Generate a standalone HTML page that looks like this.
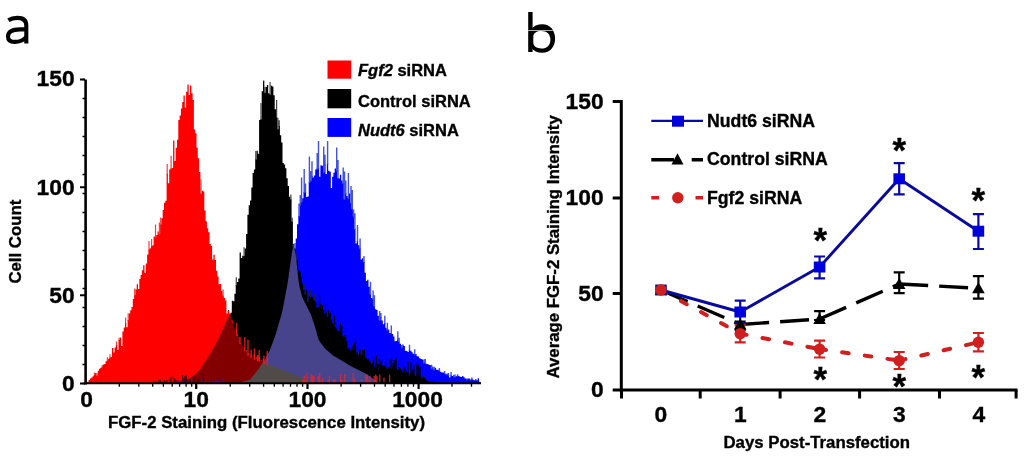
<!DOCTYPE html>
<html><head><meta charset="utf-8">
<style>
html,body{margin:0;padding:0;background:#fff;width:1024px;height:456px;overflow:hidden}
svg{display:block;font-family:"Liberation Sans",sans-serif;will-change:transform}
.b{font-weight:bold}
text{stroke:#000;stroke-width:0.35px}
</style></head>
<body>
<svg width="1024" height="456" viewBox="0 0 1024 456">
<rect width="1024" height="456" fill="#fff"/>
<!-- PANEL A -->
<g id="hist"><defs>
<clipPath id="cKi"><path d="M120.0 383.4 L121.0 383.4 L122.0 383.4 L123.0 383.4 L124.0 383.4 L125.0 383.4 L126.0 383.4 L127.0 383.4 L128.0 383.3 L129.0 383.3 L130.0 383.3 L131.0 383.3 L132.0 383.3 L133.0 383.3 L134.0 383.3 L135.0 383.3 L136.0 383.3 L137.0 383.3 L138.0 383.3 L139.0 383.3 L140.0 383.3 L141.0 383.3 L142.0 383.3 L143.0 383.2 L144.0 383.2 L145.0 383.2 L146.0 383.2 L147.0 383.2 L148.0 383.2 L149.0 383.2 L150.0 383.2 L151.0 383.2 L152.0 383.1 L153.0 383.1 L154.0 383.1 L155.0 383.0 L156.0 383.0 L157.0 383.0 L158.0 382.9 L159.0 382.9 L160.0 382.9 L161.0 382.8 L162.0 382.8 L163.0 382.8 L164.0 382.8 L165.0 382.7 L166.0 382.7 L167.0 382.7 L168.0 382.6 L169.0 382.6 L170.0 382.6 L171.0 382.5 L172.0 382.5 L173.0 382.5 L174.0 382.4 L175.0 382.4 L176.0 382.2 L177.0 382.0 L178.0 381.8 L179.0 381.6 L180.0 381.4 L181.0 381.3 L182.0 381.1 L183.0 380.9 L184.0 380.7 L185.0 380.5 L186.0 380.0 L187.0 379.5 L188.0 379.0 L189.0 378.5 L190.0 378.0 L191.0 377.5 L192.0 376.8 L193.0 376.0 L194.0 375.2 L195.0 374.5 L196.0 373.5 L197.0 372.5 L198.0 371.6 L199.0 370.6 L200.0 369.4 L201.0 367.9 L202.0 366.3 L203.0 364.8 L204.0 363.3 L205.0 361.8 L206.0 360.3 L207.0 358.7 L208.0 357.2 L209.0 355.7 L210.0 353.9 L211.0 352.2 L212.0 350.4 L213.0 348.7 L214.0 347.0 L215.0 345.2 L216.0 343.5 L217.0 341.7 L218.0 340.0 L219.0 337.8 L220.0 335.5 L221.0 333.3 L222.0 331.1 L223.0 328.8 L224.0 326.6 L225.0 324.3 L226.0 322.1 L227.0 319.9 L228.0 317.8 L229.0 315.8 L230.0 312.8 L231.0 308.4 L232.0 303.9 L233.0 299.5 L234.0 295.0 L235.0 290.6 L236.0 286.1 L237.0 281.7 L238.0 277.2 L239.0 272.3 L240.0 266.9 L241.0 261.5 L242.0 256.1 L243.0 252.2 L244.0 248.7 L245.0 242.6 L246.0 235.5 L247.0 225.5 L248.0 215.4 L249.0 206.1 L250.0 197.0 L251.0 188.9 L252.0 182.8 L253.0 176.8 L254.0 170.9 L255.0 165.0 L256.0 159.9 L257.0 155.8 L258.0 151.7 L259.0 143.2 L260.0 129.2 L261.0 114.1 L262.0 97.3 L263.0 89.5 L264.0 87.8 L265.0 86.0 L266.0 85.5 L267.0 85.0 L268.0 84.5 L269.0 84.8 L270.0 85.2 L271.0 85.5 L272.0 85.8 L273.0 88.9 L274.0 96.3 L275.0 104.5 L276.0 113.4 L277.0 118.1 L278.0 122.9 L279.0 127.6 L280.0 132.7 L281.0 138.2 L282.0 143.6 L283.0 149.1 L284.0 154.8 L285.0 160.9 L286.0 167.0 L287.0 174.0 L288.0 182.1 L289.0 190.1 L290.0 200.1 L291.0 210.0 L292.0 220.9 L293.0 234.7 L294.0 247.0 L295.0 251.0 L296.0 257.7 L297.0 267.0 L298.0 276.3 L299.0 284.6 L300.0 288.6 L301.0 292.6 L302.0 296.6 L303.0 298.8 L304.0 300.8 L305.0 302.8 L306.0 304.8 L307.0 306.8 L308.0 308.8 L309.0 310.7 L310.0 312.7 L311.0 314.8 L312.0 317.8 L313.0 320.8 L314.0 323.8 L315.0 326.8 L316.0 330.3 L317.0 334.0 L318.0 337.8 L319.0 340.5 L320.0 341.9 L321.0 343.2 L322.0 344.5 L323.0 345.8 L324.0 347.2 L325.0 348.5 L326.0 349.4 L327.0 350.3 L328.0 351.2 L329.0 352.1 L330.0 353.0 L331.0 353.8 L332.0 354.7 L333.0 355.4 L334.0 356.0 L335.0 356.6 L336.0 357.2 L337.0 357.8 L338.0 358.4 L339.0 359.0 L340.0 359.6 L341.0 360.2 L342.0 360.8 L343.0 361.4 L344.0 362.0 L345.0 362.6 L346.0 363.2 L347.0 363.8 L348.0 364.4 L349.0 365.0 L350.0 365.6 L351.0 366.2 L352.0 366.7 L353.0 367.2 L354.0 367.7 L355.0 368.2 L356.0 368.7 L357.0 369.2 L358.0 369.7 L359.0 370.2 L360.0 370.7 L361.0 371.2 L362.0 371.7 L363.0 372.2 L364.0 372.7 L365.0 373.2 L366.0 373.7 L367.0 374.4 L368.0 375.1 L369.0 375.9 L370.0 376.6 L371.0 377.3 L372.0 378.0 L373.0 378.7 L374.0 379.4 L375.0 380.1 L376.0 380.8 L377.0 381.5 L378.0 381.9 L379.0 382.3 L380.0 382.6 L381.0 383.0 L382.0 383.4 L383.0 383.4 L384.0 383.4 L385.0 383.4 L386.0 383.4 L387.0 383.4 L388.0 383.4 L389.0 383.4 L390.0 383.4 L391.0 383.4 L392.0 383.4 L393.0 383.4 L394.0 383.4 L395.0 383.4 L396.0 383.4 L397.0 383.4 L398.0 383.4 L399.0 383.4 L400.0 383.4 L401.0 383.4 L402.0 383.4 L403.0 383.4 L404.0 383.4 L405.0 383.4 L406.0 383.4 L407.0 383.4 L408.0 383.4 L409.0 383.4 L410.0 383.4 L411.0 383.4 L412.0 383.4 L413.0 383.4 L414.0 383.4 L415.0 383.4 L416.0 383.4 L417.0 383.4 L418.0 383.4 L419.0 383.4 L420.0 383.4 L421.0 383.4 L422.0 383.4 L423.0 383.4 L424.0 383.4 L425.0 383.4 L426.0 383.4 L427.0 383.4 L428.0 383.4 L429.0 383.4 L430.0 383.4 L431.0 383.4 L432.0 383.4 L433.0 383.4 L434.0 383.4 L435.0 383.4 L436.0 383.4 L437.0 383.4 L438.0 383.4 L439.0 383.4 L440.0 383.4 L440.0 383.4Z"/></clipPath>
<clipPath id="cBi"><path d="M180.0 383.4 L181.0 383.4 L182.0 383.4 L183.0 383.4 L184.0 383.3 L185.0 383.3 L186.0 383.3 L187.0 383.3 L188.0 383.3 L189.0 383.3 L190.0 383.2 L191.0 383.2 L192.0 383.2 L193.0 383.2 L194.0 383.2 L195.0 383.2 L196.0 383.2 L197.0 383.1 L198.0 383.1 L199.0 383.1 L200.0 383.1 L201.0 383.1 L202.0 383.1 L203.0 383.1 L204.0 383.0 L205.0 383.0 L206.0 383.0 L207.0 383.0 L208.0 383.0 L209.0 383.0 L210.0 382.9 L211.0 382.9 L212.0 382.9 L213.0 382.9 L214.0 382.9 L215.0 382.9 L216.0 382.9 L217.0 382.8 L218.0 382.8 L219.0 382.8 L220.0 382.8 L221.0 382.8 L222.0 382.8 L223.0 382.8 L224.0 382.7 L225.0 382.7 L226.0 382.7 L227.0 382.7 L228.0 382.7 L229.0 382.7 L230.0 382.6 L231.0 382.6 L232.0 382.6 L233.0 382.6 L234.0 382.6 L235.0 382.6 L236.0 382.6 L237.0 382.5 L238.0 382.5 L239.0 382.5 L240.0 382.5 L241.0 382.2 L242.0 382.0 L243.0 381.8 L244.0 381.5 L245.0 381.2 L246.0 381.0 L247.0 380.8 L248.0 380.5 L249.0 380.2 L250.0 380.0 L251.0 378.8 L252.0 377.5 L253.0 376.2 L254.0 375.0 L255.0 373.8 L256.0 372.5 L257.0 371.2 L258.0 370.0 L259.0 368.5 L260.0 367.1 L261.0 365.6 L262.0 364.2 L263.0 362.7 L264.0 361.3 L265.0 359.8 L266.0 357.8 L267.0 355.8 L268.0 353.7 L269.0 351.7 L270.0 349.7 L271.0 347.1 L272.0 344.5 L273.0 341.8 L274.0 339.1 L275.0 336.4 L276.0 333.2 L277.0 329.8 L278.0 326.3 L279.0 322.8 L280.0 319.4 L281.0 315.9 L282.0 312.4 L283.0 308.0 L284.0 302.6 L285.0 297.2 L286.0 291.8 L287.0 286.4 L288.0 280.5 L289.0 273.3 L290.0 266.2 L291.0 259.1 L292.0 252.0 L293.0 248.2 L294.0 244.4 L295.0 240.7 L296.0 236.9 L297.0 231.1 L298.0 223.2 L299.0 215.4 L300.0 208.1 L301.0 200.9 L302.0 196.7 L303.0 194.4 L304.0 192.2 L305.0 190.0 L306.0 188.2 L307.0 186.4 L308.0 184.6 L309.0 182.8 L310.0 181.0 L311.0 179.5 L312.0 178.0 L313.0 176.5 L314.0 175.0 L315.0 173.5 L316.0 172.0 L317.0 171.1 L318.0 170.2 L319.0 169.2 L320.0 168.3 L321.0 167.4 L322.0 166.5 L323.0 166.4 L324.0 166.3 L325.0 166.2 L326.0 166.2 L327.0 166.1 L328.0 166.0 L329.0 166.3 L330.0 166.7 L331.0 167.0 L332.0 167.3 L333.0 167.7 L334.0 168.0 L335.0 169.3 L336.0 170.7 L337.0 172.0 L338.0 173.3 L339.0 174.7 L340.0 176.0 L341.0 178.0 L342.0 179.9 L343.0 181.9 L344.0 183.8 L345.0 185.8 L346.0 188.0 L347.0 190.1 L348.0 192.2 L349.0 194.3 L350.0 197.1 L351.0 202.7 L352.0 208.2 L353.0 213.7 L354.0 220.0 L355.0 226.7 L356.0 232.6 L357.0 237.8 L358.0 243.0 L359.0 246.3 L360.0 249.5 L361.0 252.8 L362.0 256.1 L363.0 259.4 L364.0 263.3 L365.0 267.9 L366.0 272.5 L367.0 277.2 L368.0 281.8 L369.0 286.4 L370.0 289.5 L371.0 292.6 L372.0 295.7 L373.0 298.7 L374.0 301.8 L375.0 304.9 L376.0 308.0 L377.0 310.0 L378.0 311.9 L379.0 313.9 L380.0 315.9 L381.0 317.9 L382.0 319.8 L383.0 321.8 L384.0 323.4 L385.0 324.7 L386.0 326.1 L387.0 327.4 L388.0 328.7 L389.0 330.1 L390.0 331.4 L391.0 332.7 L392.0 334.1 L393.0 335.4 L394.0 336.7 L395.0 337.8 L396.0 338.8 L397.0 339.8 L398.0 340.8 L399.0 341.8 L400.0 342.9 L401.0 343.9 L402.0 344.9 L403.0 345.9 L404.0 346.9 L405.0 347.9 L406.0 348.6 L407.0 349.2 L408.0 349.9 L409.0 350.5 L410.0 351.2 L411.0 351.8 L412.0 352.5 L413.0 353.1 L414.0 353.8 L415.0 354.4 L416.0 355.1 L417.0 355.9 L418.0 356.8 L419.0 357.6 L420.0 358.4 L421.0 359.2 L422.0 360.1 L423.0 360.9 L424.0 361.8 L425.0 362.6 L426.0 363.4 L427.0 364.2 L428.0 364.7 L429.0 365.2 L430.0 365.7 L431.0 366.2 L432.0 366.7 L433.0 367.2 L434.0 367.8 L435.0 368.3 L436.0 368.8 L437.0 369.3 L438.0 369.8 L439.0 370.3 L440.0 370.8 L441.0 371.3 L442.0 371.8 L443.0 372.3 L444.0 372.8 L445.0 373.3 L446.0 373.8 L447.0 374.3 L448.0 374.8 L449.0 375.1 L450.0 375.2 L451.0 375.3 L452.0 375.4 L453.0 375.6 L454.0 375.7 L455.0 375.8 L456.0 375.9 L457.0 376.1 L458.0 376.2 L459.0 376.3 L460.0 376.4 L461.0 376.6 L462.0 376.7 L463.0 376.8 L464.0 377.0 L465.0 377.3 L466.0 377.5 L467.0 377.7 L468.0 377.9 L469.0 378.2 L470.0 378.4 L471.0 378.6 L472.0 378.8 L473.0 379.1 L474.0 379.3 L475.0 379.5 L476.0 379.7 L477.0 380.0 L478.0 380.2 L479.0 380.4 L480.0 381.9 L481.0 383.4 L481.0 383.4Z"/></clipPath>
</defs>
<path d="M180.0 383.4L180.0 383.4L181.3 383.4L181.3 383.4L182.6 383.4L182.6 383.4L183.9 383.4L183.9 383.4L185.2 383.4L185.2 383.4L186.5 383.4L186.5 383.4L187.8 383.4L187.8 383.4L189.1 383.4L189.1 383.4L190.4 383.4L190.4 383.4L191.7 383.4L191.7 383.4L193.0 383.4L193.0 383.4L194.3 383.4L194.3 383.4L195.6 383.4L195.6 383.4L196.9 383.4L196.9 383.4L198.2 383.4L198.2 383.4L199.5 383.4L199.5 383.4L200.8 383.4L200.8 383.1L202.1 383.1L202.1 383.4L203.4 383.4L203.4 383.4L204.7 383.4L204.7 383.0L206.0 383.0L206.0 383.0L207.3 383.0L207.3 383.4L208.6 383.4L208.6 383.0L209.9 383.0L209.9 383.0L211.2 383.0L211.2 382.9L212.5 382.9L212.5 383.0L213.8 383.0L213.8 382.9L215.1 382.9L215.1 383.4L216.4 383.4L216.4 383.2L217.7 383.2L217.7 382.8L219.0 382.8L219.0 382.7L220.3 382.7L220.3 382.7L221.6 382.7L221.6 382.9L222.9 382.9L222.9 382.7L224.2 382.7L224.2 383.4L225.5 383.4L225.5 383.1L226.8 383.1L226.8 382.8L228.1 382.8L228.1 382.7L229.4 382.7L229.4 382.8L230.7 382.8L230.7 382.6L232.0 382.6L232.0 382.9L233.3 382.9L233.3 382.9L234.6 382.9L234.6 383.0L235.9 383.0L235.9 382.6L237.2 382.6L237.2 382.6L238.5 382.6L238.5 382.8L239.8 382.8L239.8 382.3L241.1 382.3L241.1 382.4L242.4 382.4L242.4 382.1L243.7 382.1L243.7 380.6L245.0 380.6L245.0 381.3L246.3 381.3L246.3 380.8L247.6 380.8L247.6 381.1L248.9 381.1L248.9 380.0L250.2 380.0L250.2 380.4L251.5 380.4L251.5 378.1L252.8 378.1L252.8 375.2L254.1 375.2L254.1 373.7L255.4 373.7L255.4 374.1L256.7 374.1L256.7 371.6L258.0 371.6L258.0 370.6L259.3 370.6L259.3 367.1L260.6 367.1L260.6 366.0L261.9 366.0L261.9 362.9L263.2 362.9L263.2 363.0L264.5 363.0L264.5 358.5L265.8 358.5L265.8 356.1L267.1 356.1L267.1 354.2L268.4 354.2L268.4 351.6L269.7 351.6L269.7 350.1L271.0 350.1L271.0 345.8L272.3 345.8L272.3 342.8L273.6 342.8L273.6 339.3L274.9 339.3L274.9 333.8L276.2 333.8L276.2 329.2L277.5 329.2L277.5 330.8L278.8 330.8L278.8 319.8L280.1 319.8L280.1 317.5L281.4 317.5L281.4 310.6L282.7 310.6L282.7 308.0L284.0 308.0L284.0 299.9L285.3 299.9L285.3 289.0L286.6 289.0L286.6 284.1L287.9 284.1L287.9 281.1L289.2 281.1L289.2 268.0L290.5 268.0L290.5 256.1L291.8 256.1L291.8 250.6L293.1 250.6L293.1 243.7L294.4 243.7L294.4 248.7L295.7 248.7L295.7 238.6L297.0 238.6L297.0 224.2L298.3 224.2L298.3 216.0L299.6 216.0L299.6 205.1L300.9 205.1L300.9 201.7L302.2 201.7L302.2 198.3L303.5 198.3L303.5 192.3L304.8 192.3L304.8 192.0L306.1 192.0L306.1 196.9L307.4 196.9L307.4 196.6L308.7 196.6L308.7 182.3L310.0 182.3L310.0 180.7L311.3 180.7L311.3 175.9L312.6 175.9L312.6 177.4L313.9 177.4L313.9 175.6L315.2 175.6L315.2 169.5L316.5 169.5L316.5 168.6L317.8 168.6L317.8 168.2L319.1 168.2L319.1 176.8L320.4 176.8L320.4 165.2L321.7 165.2L321.7 165.7L323.0 165.7L323.0 172.2L324.3 172.2L324.3 164.5L325.6 164.5L325.6 174.0L326.9 174.0L326.9 163.6L328.2 163.6L328.2 170.7L329.5 170.7L329.5 171.7L330.8 171.7L330.8 188.0L332.1 188.0L332.1 176.7L333.4 176.7L333.4 172.8L334.7 172.8L334.7 168.4L336.0 168.4L336.0 170.4L337.3 170.4L337.3 177.9L338.6 177.9L338.6 178.5L339.9 178.5L339.9 174.8L341.2 174.8L341.2 180.4L342.5 180.4L342.5 183.2L343.8 183.2L343.8 199.1L345.1 199.1L345.1 193.0L346.4 193.0L346.4 196.0L347.7 196.0L347.7 198.2L349.0 198.2L349.0 193.5L350.3 193.5L350.3 203.0L351.6 203.0L351.6 208.7L352.9 208.7L352.9 216.5L354.2 216.5L354.2 229.0L355.5 229.0L355.5 243.4L356.8 243.4L356.8 241.0L358.1 241.0L358.1 245.2L359.4 245.2L359.4 248.6L360.7 248.6L360.7 259.6L362.0 259.6L362.0 258.3L363.3 258.3L363.3 262.1L364.6 262.1L364.6 272.7L365.9 272.7L365.9 281.0L367.2 281.0L367.2 279.7L368.5 279.7L368.5 286.8L369.8 286.8L369.8 294.2L371.1 294.2L371.1 298.0L372.4 298.0L372.4 298.8L373.7 298.8L373.7 306.2L375.0 306.2L375.0 309.2L376.3 309.2L376.3 310.0L377.6 310.0L377.6 315.8L378.9 315.8L378.9 320.1L380.2 320.1L380.2 317.1L381.5 317.1L381.5 320.4L382.8 320.4L382.8 324.3L384.1 324.3L384.1 323.1L385.4 323.1L385.4 327.8L386.7 327.8L386.7 329.7L388.0 329.7L388.0 329.5L389.3 329.5L389.3 333.0L390.6 333.0L390.6 333.2L391.9 333.2L391.9 333.9L393.2 333.9L393.2 336.4L394.5 336.4L394.5 341.3L395.8 341.3L395.8 341.0L397.1 341.0L397.1 339.4L398.4 339.4L398.4 341.6L399.7 341.6L399.7 343.7L401.0 343.7L401.0 347.6L402.3 347.6L402.3 344.6L403.6 344.6L403.6 346.0L404.9 346.0L404.9 350.8L406.2 350.8L406.2 350.9L407.5 350.9L407.5 352.0L408.8 352.0L408.8 349.7L410.1 349.7L410.1 350.8L411.4 350.8L411.4 352.2L412.7 352.2L412.7 353.7L414.0 353.7L414.0 354.6L415.3 354.6L415.3 354.1L416.6 354.1L416.6 356.2L417.9 356.2L417.9 356.5L419.2 356.5L419.2 358.2L420.5 358.2L420.5 358.9L421.8 358.9L421.8 359.6L423.1 359.6L423.1 362.8L424.4 362.8L424.4 359.1L425.7 359.1L425.7 363.7L427.0 363.7L427.0 363.9L428.3 363.9L428.3 364.8L429.6 364.8L429.6 365.0L430.9 365.0L430.9 368.5L432.2 368.5L432.2 366.8L433.5 366.8L433.5 369.6L434.8 369.6L434.8 367.8L436.1 367.8L436.1 369.8L437.4 369.8L437.4 369.8L438.7 369.8L438.7 370.6L440.0 370.6L440.0 371.8L441.3 371.8L441.3 372.4L442.6 372.4L442.6 372.5L443.9 372.5L443.9 373.0L445.2 373.0L445.2 374.2L446.5 374.2L446.5 374.3L447.8 374.3L447.8 375.0L449.1 375.0L449.1 377.5L450.4 377.5L450.4 375.2L451.7 375.2L451.7 376.1L453.0 376.1L453.0 376.5L454.3 376.5L454.3 376.8L455.6 376.8L455.6 376.3L456.9 376.3L456.9 375.6L458.2 375.6L458.2 376.1L459.5 376.1L459.5 376.7L460.8 376.7L460.8 376.9L462.1 376.9L462.1 376.0L463.4 376.0L463.4 377.3L464.7 377.3L464.7 378.5L466.0 378.5L466.0 379.5L467.3 379.5L467.3 378.4L468.6 378.4L468.6 378.5L469.9 378.5L469.9 380.0L471.2 380.0L471.2 378.8L472.5 378.8L472.5 379.8L473.8 379.8L473.8 380.2L475.1 380.2L475.1 379.7L476.4 379.7L476.4 380.2L477.7 380.2L477.7 378.3L479.0 378.3L479.0 381.7L480.3 381.7L480.3 383.4L481.6 383.4L481.6 383.4Z" fill="#0000ff"/>
<path d="M244.4 381.6V379.1M247.0 381.8V379.9M249.6 381.0V379.1M257.4 372.6V370.3M266.5 357.1V352.3M271.7 346.8V339.6M274.3 340.3V334.4M275.6 334.8V331.0M279.5 320.8V311.5M280.8 318.5V307.1M282.1 311.6V307.3M283.4 309.0V301.6M289.9 269.0V261.2M295.1 249.7V242.9M299.0 217.0V203.5M300.3 206.1V194.9M301.6 202.7V177.5M304.2 193.3V169.1M305.5 193.0V183.5M309.4 183.3V156.6M310.7 181.7V171.0M312.0 176.9V161.3M317.2 169.6V153.0M318.5 169.2V141.0M323.7 173.2V146.6M325.0 165.5V154.7M327.6 164.6V141.0M336.7 171.4V147.5M338.0 178.9V159.9M343.2 184.2V167.6M344.5 200.1V171.4M345.8 194.0V180.5M348.4 199.2V173.0M351.0 204.0V186.0M352.3 209.7V190.0M353.6 217.5V209.5M354.9 230.0V213.3M357.5 242.0V224.9M360.1 249.6V238.4M364.0 263.1V256.1M370.5 295.2V281.8M373.1 299.8V290.5M374.4 307.2V295.3M379.6 321.1V311.0M380.9 318.1V313.1M384.8 324.1V315.7M387.4 330.7V322.8M391.3 334.2V325.5M397.8 340.4V331.3M399.1 342.6V337.7M401.7 348.6V345.0M409.5 350.7V344.8M414.7 355.6V349.2M423.8 363.8V359.6M431.6 369.5V364.7M434.2 370.6V366.8M439.4 371.6V367.9M444.6 374.0V370.9M447.2 375.3V373.5M448.5 376.0V373.1M451.1 376.2V372.1M453.7 377.5V374.8M455.0 377.8V374.5M457.6 376.6V374.2M466.7 380.5V378.5M470.6 381.0V379.3M471.9 379.8V377.4M475.8 380.7V379.0" stroke="#3040d8" stroke-width="1.4" opacity="0.9" fill="none"/>
<path d="M120.0 383.4L120.0 383.4L121.3 383.4L121.3 383.4L122.6 383.4L122.6 383.4L123.9 383.4L123.9 383.4L125.2 383.4L125.2 383.4L126.5 383.4L126.5 383.4L127.8 383.4L127.8 383.4L129.1 383.4L129.1 383.4L130.4 383.4L130.4 383.4L131.7 383.4L131.7 383.4L133.0 383.4L133.0 383.4L134.3 383.4L134.3 383.4L135.6 383.4L135.6 383.4L136.9 383.4L136.9 383.4L138.2 383.4L138.2 383.4L139.5 383.4L139.5 383.4L140.8 383.4L140.8 383.4L142.1 383.4L142.1 383.4L143.4 383.4L143.4 383.4L144.7 383.4L144.7 383.4L146.0 383.4L146.0 383.4L147.3 383.4L147.3 383.4L148.6 383.4L148.6 383.4L149.9 383.4L149.9 383.4L151.2 383.4L151.2 383.4L152.5 383.4L152.5 383.0L153.8 383.0L153.8 383.4L155.1 383.4L155.1 382.8L156.4 382.8L156.4 383.1L157.7 383.1L157.7 383.0L159.0 383.0L159.0 382.9L160.3 382.9L160.3 383.0L161.6 383.0L161.6 382.8L162.9 382.8L162.9 382.9L164.2 382.9L164.2 383.1L165.5 383.1L165.5 382.6L166.8 382.6L166.8 382.5L168.1 382.5L168.1 382.7L169.4 382.7L169.4 382.5L170.7 382.5L170.7 382.7L172.0 382.7L172.0 382.4L173.3 382.4L173.3 382.7L174.6 382.7L174.6 382.2L175.9 382.2L175.9 382.3L177.2 382.3L177.2 381.8L178.5 381.8L178.5 381.5L179.8 381.5L179.8 381.9L181.1 381.9L181.1 382.2L182.4 382.2L182.4 381.5L183.7 381.5L183.7 380.6L185.0 380.6L185.0 380.4L186.3 380.4L186.3 379.5L187.6 379.5L187.6 380.5L188.9 380.5L188.9 378.0L190.2 378.0L190.2 377.3L191.5 377.3L191.5 375.9L192.8 375.9L192.8 375.9L194.1 375.9L194.1 374.4L195.4 374.4L195.4 373.6L196.7 373.6L196.7 372.1L198.0 372.1L198.0 371.6L199.3 371.6L199.3 375.9L200.6 375.9L200.6 369.3L201.9 369.3L201.9 365.9L203.2 365.9L203.2 363.9L204.5 363.9L204.5 361.6L205.8 361.6L205.8 359.7L207.1 359.7L207.1 359.2L208.4 359.2L208.4 361.2L209.7 361.2L209.7 354.2L211.0 354.2L211.0 350.8L212.3 350.8L212.3 349.1L213.6 349.1L213.6 346.0L214.9 346.0L214.9 344.1L216.2 344.1L216.2 340.8L217.5 340.8L217.5 340.3L218.8 340.3L218.8 339.0L220.1 339.0L220.1 338.2L221.4 338.2L221.4 330.3L222.7 330.3L222.7 327.2L224.0 327.2L224.0 324.7L225.3 324.7L225.3 322.2L226.6 322.2L226.6 329.6L227.9 329.6L227.9 310.2L229.2 310.2L229.2 314.3L230.5 314.3L230.5 312.8L231.8 312.8L231.8 300.8L233.1 300.8L233.1 301.3L234.4 301.3L234.4 293.8L235.7 293.8L235.7 284.9L237.0 284.9L237.0 282.0L238.3 282.0L238.3 278.5L239.6 278.5L239.6 252.4L240.9 252.4L240.9 258.0L242.2 258.0L242.2 255.7L243.5 255.7L243.5 256.1L244.8 256.1L244.8 248.4L246.1 248.4L246.1 234.1L247.4 234.1L247.4 214.8L248.7 214.8L248.7 205.2L250.0 205.2L250.0 200.5L251.3 200.5L251.3 187.4L252.6 187.4L252.6 173.1L253.9 173.1L253.9 169.6L255.2 169.6L255.2 159.6L256.5 159.6L256.5 150.7L257.8 150.7L257.8 153.8L259.1 153.8L259.1 120.1L260.4 120.1L260.4 119.3L261.7 119.3L261.7 91.3L263.0 91.3L263.0 80.7L264.3 80.7L264.3 92.8L265.6 92.8L265.6 86.9L266.9 86.9L266.9 85.0L268.2 85.0L268.2 93.3L269.5 93.3L269.5 94.6L270.8 94.6L270.8 85.7L272.1 85.7L272.1 86.4L273.4 86.4L273.4 95.2L274.7 95.2L274.7 109.3L276.0 109.3L276.0 117.1L277.3 117.1L277.3 129.0L278.6 129.0L278.6 126.1L279.9 126.1L279.9 135.2L281.2 135.2L281.2 142.5L282.5 142.5L282.5 163.1L283.8 163.1L283.8 164.4L285.1 164.4L285.1 168.2L286.4 168.2L286.4 178.3L287.7 178.3L287.7 185.9L289.0 185.9L289.0 196.7L290.3 196.7L290.3 199.5L291.6 199.5L291.6 221.4L292.9 221.4L292.9 247.6L294.2 247.6L294.2 248.5L295.5 248.5L295.5 260.5L296.8 260.5L296.8 260.3L298.1 260.3L298.1 270.7L299.4 270.7L299.4 271.4L300.7 271.4L300.7 276.9L302.0 276.9L302.0 284.2L303.3 284.2L303.3 289.2L304.6 289.2L304.6 294.2L305.9 294.2L305.9 289.7L307.2 289.7L307.2 300.9L308.5 300.9L308.5 295.5L309.8 295.5L309.8 296.2L311.1 296.2L311.1 297.0L312.4 297.0L312.4 297.4L313.7 297.4L313.7 299.5L315.0 299.5L315.0 302.2L316.3 302.2L316.3 308.1L317.6 308.1L317.6 307.1L318.9 307.1L318.9 303.1L320.2 303.1L320.2 304.3L321.5 304.3L321.5 307.7L322.8 307.7L322.8 310.0L324.1 310.0L324.1 313.8L325.4 313.8L325.4 311.7L326.7 311.7L326.7 317.3L328.0 317.3L328.0 315.7L329.3 315.7L329.3 312.7L330.6 312.7L330.6 319.6L331.9 319.6L331.9 322.9L333.2 322.9L333.2 325.7L334.5 325.7L334.5 327.0L335.8 327.0L335.8 328.5L337.1 328.5L337.1 330.8L338.4 330.8L338.4 331.0L339.7 331.0L339.7 326.9L341.0 326.9L341.0 325.9L342.3 325.9L342.3 335.8L343.6 335.8L343.6 336.4L344.9 336.4L344.9 337.3L346.2 337.3L346.2 341.0L347.5 341.0L347.5 348.6L348.8 348.6L348.8 348.0L350.1 348.0L350.1 350.4L351.4 350.4L351.4 346.4L352.7 346.4L352.7 349.3L354.0 349.3L354.0 349.5L355.3 349.5L355.3 354.5L356.6 354.5L356.6 351.3L357.9 351.3L357.9 354.8L359.2 354.8L359.2 354.8L360.5 354.8L360.5 355.1L361.8 355.1L361.8 353.9L363.1 353.9L363.1 359.3L364.4 359.3L364.4 357.9L365.7 357.9L365.7 357.9L367.0 357.9L367.0 359.6L368.3 359.6L368.3 359.7L369.6 359.7L369.6 362.6L370.9 362.6L370.9 362.7L372.2 362.7L372.2 361.8L373.5 361.8L373.5 367.4L374.8 367.4L374.8 363.4L376.1 363.4L376.1 364.6L377.4 364.6L377.4 363.9L378.7 363.9L378.7 371.2L380.0 371.2L380.0 365.3L381.3 365.3L381.3 365.6L382.6 365.6L382.6 365.1L383.9 365.1L383.9 366.1L385.2 366.1L385.2 368.4L386.5 368.4L386.5 368.4L387.8 368.4L387.8 367.0L389.1 367.0L389.1 368.5L390.4 368.5L390.4 367.7L391.7 367.7L391.7 368.1L393.0 368.1L393.0 369.8L394.3 369.8L394.3 369.1L395.6 369.1L395.6 368.9L396.9 368.9L396.9 370.0L398.2 370.0L398.2 370.0L399.5 370.0L399.5 373.0L400.8 373.0L400.8 369.9L402.1 369.9L402.1 372.0L403.4 372.0L403.4 371.1L404.7 371.1L404.7 372.4L406.0 372.4L406.0 371.4L407.3 371.4L407.3 373.6L408.6 373.6L408.6 375.3L409.9 375.3L409.9 373.1L411.2 373.1L411.2 373.7L412.5 373.7L412.5 373.6L413.8 373.6L413.8 374.6L415.1 374.6L415.1 375.1L416.4 375.1L416.4 375.5L417.7 375.5L417.7 376.2L419.0 376.2L419.0 376.4L420.3 376.4L420.3 377.5L421.6 377.5L421.6 378.5L422.9 378.5L422.9 378.9L424.2 378.9L424.2 377.3L425.5 377.3L425.5 380.3L426.8 380.3L426.8 380.8L428.1 380.8L428.1 381.1L429.4 381.1L429.4 381.7L430.7 381.7L430.7 381.5L432.0 381.5L432.0 382.1L433.3 382.1L433.3 381.6L434.6 381.6L434.6 382.0L435.9 382.0L435.9 382.5L437.2 382.5L437.2 382.8L438.5 382.8L438.5 383.4L439.8 383.4L439.8 383.4L441.1 383.4L441.1 383.4Z" fill="#000"/>
<path d="M186.9 380.5V378.6M189.5 379.0V376.2M190.8 378.3V375.1M193.4 376.9V374.2M194.7 375.4V373.3M202.5 366.9V363.6M207.7 360.2V355.9M212.9 350.1V345.7M216.8 341.8V339.2M219.4 340.0V334.5M220.7 339.2V334.9M224.6 325.7V320.1M236.3 285.9V277.3M244.1 257.1V247.2M255.8 160.6V151.1M261.0 120.3V102.9M263.6 81.7V80.7M264.9 93.8V86.8M270.1 95.6V82.0M276.6 118.1V99.9M277.9 130.0V117.9M279.2 127.1V120.3M290.9 200.5V194.4M292.2 222.4V217.8M296.1 261.5V253.1M303.9 290.2V282.9M305.2 295.2V292.2M307.8 301.9V298.1M309.1 296.5V293.6M310.4 297.2V289.4M314.3 300.5V293.4M319.5 304.1V301.0M322.1 308.7V305.3M331.2 320.6V316.8M344.2 337.4V334.8M345.5 338.3V336.1M352.0 347.4V344.0M354.6 350.5V346.6M357.2 352.3V349.4M358.5 355.8V352.3M361.1 356.1V353.4M362.4 354.9V350.1M371.5 363.7V361.4M372.8 362.8V360.5M379.3 372.2V368.8M383.2 366.1V362.5M385.8 369.4V367.1M394.9 370.1V366.2M404.0 372.1V369.0M405.3 373.4V371.0M415.7 376.1V373.8M422.2 379.5V376.5M424.8 378.3V375.9M428.7 382.1V380.3" stroke="#222" stroke-width="1.2" opacity="0.85" fill="none"/>
<path d="M86.0 383.4L86.0 382.6L87.3 382.6L87.3 381.8L88.6 381.8L88.6 380.0L89.9 380.0L89.9 378.4L91.2 378.4L91.2 377.6L92.5 377.6L92.5 376.2L93.8 376.2L93.8 375.1L95.1 375.1L95.1 373.1L96.4 373.1L96.4 375.5L97.7 375.5L97.7 370.7L99.0 370.7L99.0 368.8L100.3 368.8L100.3 367.8L101.6 367.8L101.6 366.8L102.9 366.8L102.9 364.4L104.2 364.4L104.2 363.9L105.5 363.9L105.5 361.2L106.8 361.2L106.8 360.6L108.1 360.6L108.1 358.7L109.4 358.7L109.4 357.6L110.7 357.6L110.7 357.1L112.0 357.1L112.0 348.1L113.3 348.1L113.3 352.4L114.6 352.4L114.6 347.5L115.9 347.5L115.9 345.0L117.2 345.0L117.2 349.9L118.5 349.9L118.5 340.0L119.8 340.0L119.8 337.4L121.1 337.4L121.1 345.9L122.4 345.9L122.4 331.4L123.7 331.4L123.7 327.6L125.0 327.6L125.0 323.0L126.3 323.0L126.3 327.3L127.6 327.3L127.6 320.0L128.9 320.0L128.9 313.5L130.2 313.5L130.2 310.3L131.5 310.3L131.5 307.1L132.8 307.1L132.8 299.1L134.1 299.1L134.1 294.9L135.4 294.9L135.4 289.4L136.7 289.4L136.7 284.3L138.0 284.3L138.0 289.0L139.3 289.0L139.3 279.0L140.6 279.0L140.6 275.0L141.9 275.0L141.9 270.3L143.2 270.3L143.2 265.3L144.5 265.3L144.5 272.9L145.8 272.9L145.8 263.6L147.1 263.6L147.1 254.5L148.4 254.5L148.4 249.6L149.7 249.6L149.7 248.2L151.0 248.2L151.0 246.2L152.3 246.2L152.3 245.3L153.6 245.3L153.6 236.6L154.9 236.6L154.9 237.5L156.2 237.5L156.2 234.9L157.5 234.9L157.5 231.4L158.8 231.4L158.8 234.2L160.1 234.2L160.1 224.6L161.4 224.6L161.4 218.3L162.7 218.3L162.7 210.0L164.0 210.0L164.0 202.8L165.3 202.8L165.3 200.8L166.6 200.8L166.6 173.7L167.9 173.7L167.9 183.3L169.2 183.3L169.2 169.6L170.5 169.6L170.5 168.5L171.8 168.5L171.8 167.9L173.1 167.9L173.1 140.4L174.4 140.4L174.4 161.1L175.7 161.1L175.7 147.7L177.0 147.7L177.0 139.7L178.3 139.7L178.3 119.9L179.6 119.9L179.6 115.6L180.9 115.6L180.9 108.5L182.2 108.5L182.2 102.0L183.5 102.0L183.5 95.5L184.8 95.5L184.8 107.4L186.1 107.4L186.1 91.7L187.4 91.7L187.4 84.4L188.7 84.4L188.7 94.9L190.0 94.9L190.0 85.4L191.3 85.4L191.3 93.2L192.6 93.2L192.6 100.0L193.9 100.0L193.9 129.6L195.2 129.6L195.2 133.3L196.5 133.3L196.5 147.8L197.8 147.8L197.8 158.3L199.1 158.3L199.1 171.9L200.4 171.9L200.4 193.6L201.7 193.6L201.7 190.8L203.0 190.8L203.0 191.4L204.3 191.4L204.3 210.5L205.6 210.5L205.6 221.2L206.9 221.2L206.9 228.3L208.2 228.3L208.2 232.2L209.5 232.2L209.5 244.1L210.8 244.1L210.8 246.0L212.1 246.0L212.1 259.4L213.4 259.4L213.4 254.7L214.7 254.7L214.7 260.1L216.0 260.1L216.0 270.8L217.3 270.8L217.3 276.6L218.6 276.6L218.6 284.2L219.9 284.2L219.9 284.0L221.2 284.0L221.2 290.9L222.5 290.9L222.5 295.4L223.8 295.4L223.8 298.0L225.1 298.0L225.1 300.5L226.4 300.5L226.4 313.5L227.7 313.5L227.7 311.0L229.0 311.0L229.0 313.6L230.3 313.6L230.3 319.5L231.6 319.5L231.6 320.4L232.9 320.4L232.9 334.4L234.2 334.4L234.2 331.4L235.5 331.4L235.5 333.3L236.8 333.3L236.8 334.5L238.1 334.5L238.1 339.6L239.4 339.6L239.4 342.8L240.7 342.8L240.7 344.1L242.0 344.1L242.0 347.9L243.3 347.9L243.3 348.4L244.6 348.4L244.6 352.5L245.9 352.5L245.9 352.8L247.2 352.8L247.2 355.3L248.5 355.3L248.5 355.1L249.8 355.1L249.8 354.8L251.1 354.8L251.1 355.4L252.4 355.4L252.4 357.4L253.7 357.4L253.7 357.6L255.0 357.6L255.0 359.1L256.3 359.1L256.3 360.0L257.6 360.0L257.6 356.3L258.9 356.3L258.9 360.7L260.2 360.7L260.2 359.7L261.5 359.7L261.5 360.4L262.8 360.4L262.8 361.4L264.1 361.4L264.1 361.9L265.4 361.9L265.4 363.0L266.7 363.0L266.7 363.1L268.0 363.1L268.0 363.4L269.3 363.4L269.3 365.1L270.6 365.1L270.6 367.2L271.9 367.2L271.9 365.9L273.2 365.9L273.2 369.6L274.5 369.6L274.5 366.2L275.8 366.2L275.8 367.0L277.1 367.0L277.1 367.3L278.4 367.3L278.4 367.9L279.7 367.9L279.7 369.0L281.0 369.0L281.0 369.2L282.3 369.2L282.3 370.1L283.6 370.1L283.6 372.3L284.9 372.3L284.9 369.3L286.2 369.3L286.2 371.3L287.5 371.3L287.5 372.1L288.8 372.1L288.8 373.5L290.1 373.5L290.1 373.8L291.4 373.8L291.4 374.7L292.7 374.7L292.7 374.2L294.0 374.2L294.0 374.8L295.3 374.8L295.3 378.0L296.6 378.0L296.6 376.8L297.9 376.8L297.9 376.6L299.2 376.6L299.2 377.9L300.5 377.9L300.5 378.4L301.8 378.4L301.8 378.4L303.1 378.4L303.1 379.2L304.4 379.2L304.4 380.2L305.7 380.2L305.7 380.0L307.0 380.0L307.0 381.1L308.3 381.1L308.3 380.8L309.6 380.8L309.6 381.0L310.9 381.0L310.9 382.4L312.2 382.4L312.2 383.2L313.5 383.2L313.5 382.1L314.8 382.1L314.8 382.8L316.1 382.8L316.1 382.9L317.4 382.9L317.4 382.8L318.7 382.8L318.7 382.6L320.0 382.6L320.0 382.8L321.3 382.8L321.3 383.0L322.6 383.0L322.6 382.7L323.9 382.7L323.9 383.1L325.2 383.1L325.2 383.4L326.5 383.4L326.5 383.1L327.8 383.1L327.8 383.4L329.1 383.4L329.1 383.4L330.4 383.4L330.4 383.4L331.7 383.4L331.7 383.4L333.0 383.4L333.0 383.4L334.3 383.4L334.3 383.4L335.6 383.4L335.6 383.4L336.9 383.4L336.9 383.4L338.2 383.4L338.2 383.4L339.5 383.4L339.5 383.4L340.8 383.4L340.8 383.4L342.1 383.4L342.1 383.4L343.4 383.4L343.4 383.4L344.7 383.4L344.7 383.4L346.0 383.4L346.0 383.4L347.3 383.4L347.3 383.4L348.6 383.4L348.6 383.4L349.9 383.4L349.9 383.4L351.2 383.4L351.2 383.4L352.5 383.4L352.5 383.4L353.8 383.4L353.8 383.4L355.1 383.4L355.1 383.4L356.4 383.4L356.4 383.4L357.7 383.4L357.7 383.4L359.0 383.4L359.0 383.4L360.3 383.4L360.3 383.4L361.6 383.4L361.6 383.4L362.9 383.4L362.9 383.4L364.2 383.4L364.2 383.4L365.5 383.4L365.5 383.4L366.8 383.4L366.8 383.4L368.1 383.4L368.1 383.4L369.4 383.4L369.4 383.4L370.7 383.4L370.7 383.4L372.0 383.4L372.0 383.4L373.3 383.4L373.3 383.4L374.6 383.4L374.6 383.4L375.9 383.4L375.9 383.4L377.2 383.4L377.2 383.4L378.5 383.4L378.5 383.4L379.8 383.4L379.8 383.4L381.1 383.4L381.1 383.4L382.4 383.4L382.4 383.4L383.7 383.4L383.7 383.4L385.0 383.4L385.0 383.4L386.3 383.4L386.3 383.4L387.6 383.4L387.6 383.4L388.9 383.4L388.9 383.4L390.2 383.4L390.2 383.4L391.5 383.4L391.5 383.4L392.8 383.4L392.8 383.4Z" fill="#ff0000"/>
<path d="M94.4 376.1V372.6M97.0 376.5V373.0M102.2 367.8V364.9M107.4 361.6V357.3M110.0 358.6V354.2M116.5 346.0V341.4M119.1 341.0V337.7M125.6 324.0V317.5M128.2 321.0V313.2M134.7 295.9V288.5M149.0 250.6V241.1M151.6 247.2V238.9M155.5 238.5V224.6M159.4 235.2V222.4M160.7 225.6V217.4M167.2 174.7V164.0M171.1 169.5V155.7M201.0 194.6V179.2M223.1 296.4V289.6M236.1 334.3V328.5M238.7 340.6V337.5M246.5 353.8V350.3M249.1 356.1V353.1M254.3 358.6V353.8M255.6 360.1V358.0M256.9 361.0V356.8M259.5 361.7V358.0M263.4 362.4V358.5M269.9 366.1V363.4M279.0 368.9V365.6M286.8 372.3V370.6M290.7 374.8V372.4M308.9 381.8V379.8" stroke="#f02020" stroke-width="1.2" opacity="0.85" fill="none"/>
<g clip-path="url(#cKi)"><path d="M86.0 383.4 L87.0 382.3 L88.0 381.2 L89.0 380.2 L90.0 379.2 L91.0 378.2 L92.0 377.2 L93.0 376.2 L94.0 375.2 L95.0 374.2 L96.0 373.2 L97.0 372.2 L98.0 371.2 L99.0 370.2 L100.0 369.1 L101.0 367.9 L102.0 366.8 L103.0 365.6 L104.0 364.5 L105.0 363.4 L106.0 362.2 L107.0 361.1 L108.0 360.0 L109.0 358.8 L110.0 357.7 L111.0 356.5 L112.0 354.8 L113.0 352.8 L114.0 350.8 L115.0 348.8 L116.0 346.7 L117.0 344.7 L118.0 342.7 L119.0 340.7 L120.0 338.7 L121.0 336.2 L122.0 333.6 L123.0 331.1 L124.0 328.6 L125.0 326.1 L126.0 323.5 L127.0 321.0 L128.0 317.5 L129.0 314.0 L130.0 310.5 L131.0 307.0 L132.0 303.5 L133.0 300.0 L134.0 296.2 L135.0 292.4 L136.0 288.7 L137.0 284.9 L138.0 281.6 L139.0 279.1 L140.0 276.6 L141.0 274.1 L142.0 271.5 L143.0 269.0 L144.0 266.5 L145.0 263.7 L146.0 260.3 L147.0 256.9 L148.0 253.6 L149.0 250.2 L150.0 247.1 L151.0 245.3 L152.0 243.4 L153.0 241.6 L154.0 239.7 L155.0 237.9 L156.0 236.0 L157.0 233.6 L158.0 231.2 L159.0 228.8 L160.0 225.8 L161.0 221.7 L162.0 217.7 L163.0 213.6 L164.0 208.7 L165.0 203.8 L166.0 198.9 L167.0 189.5 L168.0 170.0 L169.0 167.6 L170.0 165.2 L171.0 164.8 L172.0 164.3 L173.0 163.9 L174.0 163.4 L175.0 163.0 L176.0 153.0 L177.0 142.7 L178.0 129.9 L179.0 120.8 L180.0 115.1 L181.0 109.6 L182.0 105.4 L183.0 101.2 L184.0 97.0 L185.0 94.2 L186.0 91.4 L187.0 89.2 L188.0 87.6 L189.0 86.0 L190.0 87.0 L191.0 88.0 L192.0 92.7 L193.0 97.4 L194.0 106.9 L195.0 119.4 L196.0 134.8 L197.0 149.8 L198.0 157.7 L199.0 165.7 L200.0 173.6 L201.0 180.8 L202.0 187.1 L203.0 193.5 L204.0 202.4 L205.0 212.3 L206.0 221.4 L207.0 226.9 L208.0 232.3 L209.0 237.8 L210.0 242.0 L211.0 245.4 L212.0 248.8 L213.0 252.2 L214.0 255.6 L215.0 259.4 L216.0 264.0 L217.0 268.7 L218.0 273.3 L219.0 278.0 L220.0 282.6 L221.0 286.1 L222.0 289.6 L223.0 293.0 L224.0 296.5 L225.0 300.0 L226.0 303.2 L227.0 306.3 L228.0 309.5 L229.0 312.7 L230.0 315.7 L231.0 318.6 L232.0 321.4 L233.0 324.3 L234.0 327.1 L235.0 330.0 L236.0 332.4 L237.0 334.8 L238.0 337.2 L239.0 339.6 L240.0 342.0 L241.0 343.5 L242.0 345.0 L243.0 346.5 L244.0 348.0 L245.0 349.5 L246.0 351.0 L247.0 352.5 L248.0 354.0 L249.0 354.6 L250.0 355.1 L251.0 355.7 L252.0 356.3 L253.0 356.9 L254.0 357.4 L255.0 358.0 L256.0 358.4 L257.0 358.9 L258.0 359.3 L259.0 359.7 L260.0 360.1 L261.0 360.6 L262.0 361.0 L263.0 361.5 L264.0 362.0 L265.0 362.5 L266.0 363.0 L267.0 363.5 L268.0 364.0 L269.0 364.5 L270.0 365.0 L271.0 365.4 L272.0 365.8 L273.0 366.2 L274.0 366.6 L275.0 367.0 L276.0 367.4 L277.0 367.8 L278.0 368.2 L279.0 368.6 L280.0 369.0 L281.0 369.4 L282.0 369.8 L283.0 370.2 L284.0 370.6 L285.0 371.0 L286.0 371.4 L287.0 371.8 L288.0 372.2 L289.0 372.6 L290.0 373.0 L291.0 373.4 L292.0 373.8 L293.0 374.2 L294.0 374.6 L295.0 375.0 L296.0 375.4 L297.0 375.8 L298.0 376.2 L299.0 376.6 L300.0 377.0 L301.0 377.4 L302.0 377.9 L303.0 378.3 L304.0 378.8 L305.0 379.2 L306.0 379.6 L307.0 380.1 L308.0 380.5 L309.0 380.8 L310.0 381.1 L311.0 381.4 L312.0 381.6 L313.0 381.9 L314.0 382.2 L315.0 382.5 L316.0 382.5 L317.0 382.6 L318.0 382.6 L319.0 382.7 L320.0 382.7 L321.0 382.8 L322.0 382.8 L323.0 382.9 L324.0 382.9 L325.0 383.0 L326.0 383.0 L327.0 383.1 L328.0 383.1 L329.0 383.2 L330.0 383.2 L331.0 383.2 L332.0 383.2 L333.0 383.2 L334.0 383.2 L335.0 383.2 L336.0 383.2 L337.0 383.2 L338.0 383.2 L339.0 383.2 L340.0 383.2 L341.0 383.2 L342.0 383.2 L343.0 383.2 L344.0 383.2 L345.0 383.2 L346.0 383.3 L347.0 383.3 L348.0 383.3 L349.0 383.3 L350.0 383.3 L351.0 383.3 L352.0 383.3 L353.0 383.3 L354.0 383.3 L355.0 383.3 L356.0 383.3 L357.0 383.3 L358.0 383.3 L359.0 383.3 L360.0 383.3 L361.0 383.3 L362.0 383.3 L363.0 383.3 L364.0 383.3 L365.0 383.3 L366.0 383.3 L367.0 383.3 L368.0 383.3 L369.0 383.3 L370.0 383.3 L371.0 383.3 L372.0 383.3 L373.0 383.3 L374.0 383.3 L375.0 383.3 L376.0 383.3 L377.0 383.4 L378.0 383.4 L379.0 383.4 L380.0 383.4 L381.0 383.4 L382.0 383.4 L383.0 383.4 L384.0 383.4 L385.0 383.4 L386.0 383.4 L387.0 383.4 L388.0 383.4 L389.0 383.4 L390.0 383.4 L391.0 383.4 L392.0 383.4 L392.0 383.4Z" fill="#820000"/><path d="M180.0 383.4 L181.0 383.4 L182.0 383.4 L183.0 383.4 L184.0 383.3 L185.0 383.3 L186.0 383.3 L187.0 383.3 L188.0 383.3 L189.0 383.3 L190.0 383.2 L191.0 383.2 L192.0 383.2 L193.0 383.2 L194.0 383.2 L195.0 383.2 L196.0 383.2 L197.0 383.1 L198.0 383.1 L199.0 383.1 L200.0 383.1 L201.0 383.1 L202.0 383.1 L203.0 383.1 L204.0 383.0 L205.0 383.0 L206.0 383.0 L207.0 383.0 L208.0 383.0 L209.0 383.0 L210.0 382.9 L211.0 382.9 L212.0 382.9 L213.0 382.9 L214.0 382.9 L215.0 382.9 L216.0 382.9 L217.0 382.8 L218.0 382.8 L219.0 382.8 L220.0 382.8 L221.0 382.8 L222.0 382.8 L223.0 382.8 L224.0 382.7 L225.0 382.7 L226.0 382.7 L227.0 382.7 L228.0 382.7 L229.0 382.7 L230.0 382.6 L231.0 382.6 L232.0 382.6 L233.0 382.6 L234.0 382.6 L235.0 382.6 L236.0 382.6 L237.0 382.5 L238.0 382.5 L239.0 382.5 L240.0 382.5 L241.0 382.2 L242.0 382.0 L243.0 381.8 L244.0 381.5 L245.0 381.2 L246.0 381.0 L247.0 380.8 L248.0 380.5 L249.0 380.2 L250.0 380.0 L251.0 378.8 L252.0 377.5 L253.0 376.2 L254.0 375.0 L255.0 373.8 L256.0 372.5 L257.0 371.2 L258.0 370.0 L259.0 368.5 L260.0 367.1 L261.0 365.6 L262.0 364.2 L263.0 362.7 L264.0 361.3 L265.0 359.8 L266.0 357.8 L267.0 355.8 L268.0 353.7 L269.0 351.7 L270.0 349.7 L271.0 347.1 L272.0 344.5 L273.0 341.8 L274.0 339.1 L275.0 336.4 L276.0 333.2 L277.0 329.8 L278.0 326.3 L279.0 322.8 L280.0 319.4 L281.0 315.9 L282.0 312.4 L283.0 308.0 L284.0 302.6 L285.0 297.2 L286.0 291.8 L287.0 286.4 L288.0 280.5 L289.0 273.3 L290.0 266.2 L291.0 259.1 L292.0 252.0 L293.0 248.2 L294.0 244.4 L295.0 240.7 L296.0 236.9 L297.0 231.1 L298.0 223.2 L299.0 215.4 L300.0 208.1 L301.0 200.9 L302.0 196.7 L303.0 194.4 L304.0 192.2 L305.0 190.0 L306.0 188.2 L307.0 186.4 L308.0 184.6 L309.0 182.8 L310.0 181.0 L311.0 179.5 L312.0 178.0 L313.0 176.5 L314.0 175.0 L315.0 173.5 L316.0 172.0 L317.0 171.1 L318.0 170.2 L319.0 169.2 L320.0 168.3 L321.0 167.4 L322.0 166.5 L323.0 166.4 L324.0 166.3 L325.0 166.2 L326.0 166.2 L327.0 166.1 L328.0 166.0 L329.0 166.3 L330.0 166.7 L331.0 167.0 L332.0 167.3 L333.0 167.7 L334.0 168.0 L335.0 169.3 L336.0 170.7 L337.0 172.0 L338.0 173.3 L339.0 174.7 L340.0 176.0 L341.0 178.0 L342.0 179.9 L343.0 181.9 L344.0 183.8 L345.0 185.8 L346.0 188.0 L347.0 190.1 L348.0 192.2 L349.0 194.3 L350.0 197.1 L351.0 202.7 L352.0 208.2 L353.0 213.7 L354.0 220.0 L355.0 226.7 L356.0 232.6 L357.0 237.8 L358.0 243.0 L359.0 246.3 L360.0 249.5 L361.0 252.8 L362.0 256.1 L363.0 259.4 L364.0 263.3 L365.0 267.9 L366.0 272.5 L367.0 277.2 L368.0 281.8 L369.0 286.4 L370.0 289.5 L371.0 292.6 L372.0 295.7 L373.0 298.7 L374.0 301.8 L375.0 304.9 L376.0 308.0 L377.0 310.0 L378.0 311.9 L379.0 313.9 L380.0 315.9 L381.0 317.9 L382.0 319.8 L383.0 321.8 L384.0 323.4 L385.0 324.7 L386.0 326.1 L387.0 327.4 L388.0 328.7 L389.0 330.1 L390.0 331.4 L391.0 332.7 L392.0 334.1 L393.0 335.4 L394.0 336.7 L395.0 337.8 L396.0 338.8 L397.0 339.8 L398.0 340.8 L399.0 341.8 L400.0 342.9 L401.0 343.9 L402.0 344.9 L403.0 345.9 L404.0 346.9 L405.0 347.9 L406.0 348.6 L407.0 349.2 L408.0 349.9 L409.0 350.5 L410.0 351.2 L411.0 351.8 L412.0 352.5 L413.0 353.1 L414.0 353.8 L415.0 354.4 L416.0 355.1 L417.0 355.9 L418.0 356.8 L419.0 357.6 L420.0 358.4 L421.0 359.2 L422.0 360.1 L423.0 360.9 L424.0 361.8 L425.0 362.6 L426.0 363.4 L427.0 364.2 L428.0 364.7 L429.0 365.2 L430.0 365.7 L431.0 366.2 L432.0 366.7 L433.0 367.2 L434.0 367.8 L435.0 368.3 L436.0 368.8 L437.0 369.3 L438.0 369.8 L439.0 370.3 L440.0 370.8 L441.0 371.3 L442.0 371.8 L443.0 372.3 L444.0 372.8 L445.0 373.3 L446.0 373.8 L447.0 374.3 L448.0 374.8 L449.0 375.1 L450.0 375.2 L451.0 375.3 L452.0 375.4 L453.0 375.6 L454.0 375.7 L455.0 375.8 L456.0 375.9 L457.0 376.1 L458.0 376.2 L459.0 376.3 L460.0 376.4 L461.0 376.6 L462.0 376.7 L463.0 376.8 L464.0 377.0 L465.0 377.3 L466.0 377.5 L467.0 377.7 L468.0 377.9 L469.0 378.2 L470.0 378.4 L471.0 378.6 L472.0 378.8 L473.0 379.1 L474.0 379.3 L475.0 379.5 L476.0 379.7 L477.0 380.0 L478.0 380.2 L479.0 380.4 L480.0 381.9 L481.0 383.4 L481.0 383.4Z" fill="#48448c"/></g>
<g clip-path="url(#cKi)"><g clip-path="url(#cBi)"><path d="M86.0 383.4 L87.0 382.3 L88.0 381.2 L89.0 380.2 L90.0 379.2 L91.0 378.2 L92.0 377.2 L93.0 376.2 L94.0 375.2 L95.0 374.2 L96.0 373.2 L97.0 372.2 L98.0 371.2 L99.0 370.2 L100.0 369.1 L101.0 367.9 L102.0 366.8 L103.0 365.6 L104.0 364.5 L105.0 363.4 L106.0 362.2 L107.0 361.1 L108.0 360.0 L109.0 358.8 L110.0 357.7 L111.0 356.5 L112.0 354.8 L113.0 352.8 L114.0 350.8 L115.0 348.8 L116.0 346.7 L117.0 344.7 L118.0 342.7 L119.0 340.7 L120.0 338.7 L121.0 336.2 L122.0 333.6 L123.0 331.1 L124.0 328.6 L125.0 326.1 L126.0 323.5 L127.0 321.0 L128.0 317.5 L129.0 314.0 L130.0 310.5 L131.0 307.0 L132.0 303.5 L133.0 300.0 L134.0 296.2 L135.0 292.4 L136.0 288.7 L137.0 284.9 L138.0 281.6 L139.0 279.1 L140.0 276.6 L141.0 274.1 L142.0 271.5 L143.0 269.0 L144.0 266.5 L145.0 263.7 L146.0 260.3 L147.0 256.9 L148.0 253.6 L149.0 250.2 L150.0 247.1 L151.0 245.3 L152.0 243.4 L153.0 241.6 L154.0 239.7 L155.0 237.9 L156.0 236.0 L157.0 233.6 L158.0 231.2 L159.0 228.8 L160.0 225.8 L161.0 221.7 L162.0 217.7 L163.0 213.6 L164.0 208.7 L165.0 203.8 L166.0 198.9 L167.0 189.5 L168.0 170.0 L169.0 167.6 L170.0 165.2 L171.0 164.8 L172.0 164.3 L173.0 163.9 L174.0 163.4 L175.0 163.0 L176.0 153.0 L177.0 142.7 L178.0 129.9 L179.0 120.8 L180.0 115.1 L181.0 109.6 L182.0 105.4 L183.0 101.2 L184.0 97.0 L185.0 94.2 L186.0 91.4 L187.0 89.2 L188.0 87.6 L189.0 86.0 L190.0 87.0 L191.0 88.0 L192.0 92.7 L193.0 97.4 L194.0 106.9 L195.0 119.4 L196.0 134.8 L197.0 149.8 L198.0 157.7 L199.0 165.7 L200.0 173.6 L201.0 180.8 L202.0 187.1 L203.0 193.5 L204.0 202.4 L205.0 212.3 L206.0 221.4 L207.0 226.9 L208.0 232.3 L209.0 237.8 L210.0 242.0 L211.0 245.4 L212.0 248.8 L213.0 252.2 L214.0 255.6 L215.0 259.4 L216.0 264.0 L217.0 268.7 L218.0 273.3 L219.0 278.0 L220.0 282.6 L221.0 286.1 L222.0 289.6 L223.0 293.0 L224.0 296.5 L225.0 300.0 L226.0 303.2 L227.0 306.3 L228.0 309.5 L229.0 312.7 L230.0 315.7 L231.0 318.6 L232.0 321.4 L233.0 324.3 L234.0 327.1 L235.0 330.0 L236.0 332.4 L237.0 334.8 L238.0 337.2 L239.0 339.6 L240.0 342.0 L241.0 343.5 L242.0 345.0 L243.0 346.5 L244.0 348.0 L245.0 349.5 L246.0 351.0 L247.0 352.5 L248.0 354.0 L249.0 354.6 L250.0 355.1 L251.0 355.7 L252.0 356.3 L253.0 356.9 L254.0 357.4 L255.0 358.0 L256.0 358.4 L257.0 358.9 L258.0 359.3 L259.0 359.7 L260.0 360.1 L261.0 360.6 L262.0 361.0 L263.0 361.5 L264.0 362.0 L265.0 362.5 L266.0 363.0 L267.0 363.5 L268.0 364.0 L269.0 364.5 L270.0 365.0 L271.0 365.4 L272.0 365.8 L273.0 366.2 L274.0 366.6 L275.0 367.0 L276.0 367.4 L277.0 367.8 L278.0 368.2 L279.0 368.6 L280.0 369.0 L281.0 369.4 L282.0 369.8 L283.0 370.2 L284.0 370.6 L285.0 371.0 L286.0 371.4 L287.0 371.8 L288.0 372.2 L289.0 372.6 L290.0 373.0 L291.0 373.4 L292.0 373.8 L293.0 374.2 L294.0 374.6 L295.0 375.0 L296.0 375.4 L297.0 375.8 L298.0 376.2 L299.0 376.6 L300.0 377.0 L301.0 377.4 L302.0 377.9 L303.0 378.3 L304.0 378.8 L305.0 379.2 L306.0 379.6 L307.0 380.1 L308.0 380.5 L309.0 380.8 L310.0 381.1 L311.0 381.4 L312.0 381.6 L313.0 381.9 L314.0 382.2 L315.0 382.5 L316.0 382.5 L317.0 382.6 L318.0 382.6 L319.0 382.7 L320.0 382.7 L321.0 382.8 L322.0 382.8 L323.0 382.9 L324.0 382.9 L325.0 383.0 L326.0 383.0 L327.0 383.1 L328.0 383.1 L329.0 383.2 L330.0 383.2 L331.0 383.2 L332.0 383.2 L333.0 383.2 L334.0 383.2 L335.0 383.2 L336.0 383.2 L337.0 383.2 L338.0 383.2 L339.0 383.2 L340.0 383.2 L341.0 383.2 L342.0 383.2 L343.0 383.2 L344.0 383.2 L345.0 383.2 L346.0 383.3 L347.0 383.3 L348.0 383.3 L349.0 383.3 L350.0 383.3 L351.0 383.3 L352.0 383.3 L353.0 383.3 L354.0 383.3 L355.0 383.3 L356.0 383.3 L357.0 383.3 L358.0 383.3 L359.0 383.3 L360.0 383.3 L361.0 383.3 L362.0 383.3 L363.0 383.3 L364.0 383.3 L365.0 383.3 L366.0 383.3 L367.0 383.3 L368.0 383.3 L369.0 383.3 L370.0 383.3 L371.0 383.3 L372.0 383.3 L373.0 383.3 L374.0 383.3 L375.0 383.3 L376.0 383.3 L377.0 383.4 L378.0 383.4 L379.0 383.4 L380.0 383.4 L381.0 383.4 L382.0 383.4 L383.0 383.4 L384.0 383.4 L385.0 383.4 L386.0 383.4 L387.0 383.4 L388.0 383.4 L389.0 383.4 L390.0 383.4 L391.0 383.4 L392.0 383.4 L392.0 383.4Z" fill="#504b48"/></g></g>
<path d="M319.5 313.2V295.8M322.5 313.8V305.5M325.5 325.8V304.1M328.5 321.0V309.8M330.0 322.2V313.0M334.5 333.8V315.5M340.5 342.6V322.7M345.0 346.1V335.2M354.0 356.5V342.4M355.5 354.6V338.3M360.0 360.9V348.8M363.0 367.9V350.1M364.5 365.5V348.9M373.5 373.5V356.3M376.5 371.6V355.4M379.5 377.1V358.4M381.0 371.4V360.5M385.5 375.8V361.5M390.0 381.4V359.7M391.5 381.3V357.6M393.0 374.8V363.1M394.5 380.6V360.1M396.0 373.9V357.9M399.0 373.9V367.1M400.5 383.4V368.0M403.5 380.3V367.8M405.0 377.9V367.4M408.0 383.4V361.8M411.0 383.4V362.8M412.5 381.1V369.8M414.0 383.4V365.0M417.0 383.4V363.5M418.5 383.4V365.2M420.0 383.4V366.7M423.0 383.4V376.8" stroke="#000" stroke-width="1.3" fill="none" opacity="0.9"/>
<path d="M236.8 336.3V322.8M240.0 344.0V336.7M244.8 351.2V337.1M248.0 356.0V339.8M251.2 357.8V349.6M254.4 359.7V348.4M257.6 361.1V355.1M259.2 361.8V350.1M264.0 364.0V355.7M267.2 365.6V350.9" stroke="#ff1a1a" stroke-width="1.4" fill="none" opacity="0.85"/><path d="M302.8 382.9V379.6M304.2 382.9V375.6M305.6 382.9V381.3M307.0 382.9V373.1M311.2 382.9V374.0M312.6 382.9V375.7M314.0 382.9V375.6M318.2 382.9V376.1M319.6 382.9V373.1M321.0 382.9V381.3M322.4 382.9V378.3M328.0 382.9V379.8M329.4 382.9V375.7M333.6 382.9V379.8M335.0 382.9V379.1M340.6 382.9V374.3M342.0 382.9V380.2M344.8 382.9V374.0M353.2 382.9V372.5M354.6 382.9V378.7M361.6 382.9V378.9M365.8 382.9V374.6M367.2 382.9V374.7M368.6 382.9V380.7M370.0 382.9V376.3M374.2 382.9V376.0M375.6 382.9V374.5M377.0 382.9V376.1M379.8 382.9V374.5M384.0 382.9V377.6M389.6 382.9V374.7" stroke="#e8252a" stroke-width="1.3" fill="none" opacity="0.8"/><path d="M153.9 382.9V380.5M156.5 382.9V381.6M159.1 382.9V379.5M160.4 382.9V379.8M163.0 382.9V381.6M164.3 382.9V379.6M165.6 382.9V381.1M166.9 382.9V380.2M169.5 382.9V379.1M170.8 382.9V376.8M173.4 382.9V376.3M174.7 382.9V377.9M176.0 382.9V380.4M177.3 382.9V380.4M178.6 382.9V382.2M179.9 382.9V382.3M182.5 382.9V375.2M183.8 382.9V377.8M185.1 382.9V375.9M186.4 382.9V375.4M187.7 382.9V381.3M189.0 382.9V382.1M190.3 382.9V378.8M194.2 382.9V376.3M198.1 382.9V377.9M203.3 382.9V373.1" stroke="#2a0000" stroke-width="1.2" fill="none" opacity="0.8"/><path d="M176.5 382.9V381.5M178.0 382.9V380.0M179.5 382.9V381.0M182.5 382.9V381.4M184.0 382.9V380.5M187.0 382.9V380.3M191.5 382.9V379.0M202.0 382.9V378.9M203.5 382.9V381.8M208.0 382.9V381.2M209.5 382.9V379.4M212.5 382.9V381.0M214.0 382.9V382.0M215.5 382.9V379.5M217.0 382.9V380.5M218.5 382.9V380.3M223.0 382.9V378.8" stroke="#2020c0" stroke-width="1.2" fill="none" opacity="0.7"/></g>
<!-- panel a axes -->
<g stroke="#000" fill="none">
<path d="M85.6 79.5V384.4" stroke-width="2.6"/>
<path d="M84.3 383.3H481" stroke-width="2"/>
<path d="M80 79.5H85M80 187.3H85M80 295.3H85M80 383.5H85" stroke-width="2"/>
<path stroke-width="1.3" d="M82.5 79.5H85M82.5 98.5H85M82.5 117.5H85M82.5 136.5H85M82.5 155.5H85M82.5 174.5H85M82.5 193.5H85M82.5 212.5H85M82.5 231.5H85M82.5 250.5H85M82.5 269.5H85M82.5 288.5H85M82.5 307.5H85M82.5 326.5H85M82.5 345.5H85M82.5 364.5H85M82.5 383.5H85"/>
<path d="M196.2 383V389M307.5 383V389M418.6 383V389" stroke-width="2.2"/>
<path stroke-width="1.3" d="M119.3 383V386.8M138.8 383V386.8M152.7 383V386.8M163.4 383V386.8M172.2 383V386.8M179.6 383V386.8M186.1 383V386.8M191.7 383V386.8M230.2 383V386.8M249.7 383V386.8M263.6 383V386.8M274.3 383V386.8M283.1 383V386.8M290.5 383V386.8M297.0 383V386.8M302.6 383V386.8M341.1 383V386.8M360.6 383V386.8M374.5 383V386.8M385.2 383V386.8M394.0 383V386.8M401.4 383V386.8M407.9 383V386.8M413.5 383V386.8M452.0 383V386.8M471.5 383V386.8"/>
</g>
<g class="b" font-size="22.8" text-anchor="end">
<text x="74.6" y="85.7">150</text>
<text x="74.6" y="194.7">100</text>
<text x="74.6" y="302.9">50</text>
<text x="74.6" y="391.1">0</text>
</g>
<g class="b" font-size="22.8" text-anchor="middle">
<text x="86.5" y="407.2">0</text>
<text x="196.2" y="407.2">10</text>
<text x="307.5" y="407.2">100</text>
<text x="417.5" y="407.2">1000</text>
</g>
<text class="b" x="108" y="428.3" font-size="16.8">FGF-2 Staining (Fluorescence Intensity)</text>
<text class="b" font-size="16.8" transform="translate(20.9,283.6) rotate(-90)">Cell Count</text>
<g fill="none" stroke="#000" stroke-width="4.1">
<path d="M8.4 20.2C10.8 18.6 13.8 17.9 17.2 17.9C23.2 17.9 26.3 20.5 26.3 25.5V43.6"/>
<path d="M26.3 29.4H19.8C11.8 29.4 8 32.2 8 36.4C8 40.1 10.6 41.9 14.6 41.9C19.5 41.9 23.6 40.1 26.3 37"/>
</g>
<!-- legend a -->
<rect x="327.5" y="60.5" width="23.7" height="18.2" fill="#ff0000"/>
<rect x="327.5" y="89" width="23.7" height="19.3" fill="#000"/>
<rect x="327.5" y="118" width="23.7" height="18.9" fill="#0000ff"/>
<g class="b" font-size="16.5">
<text x="358" y="75.7"><tspan font-style="italic">Fgf2</tspan> siRNA</text>
<text x="358" y="106.7">Control siRNA</text>
<text x="358" y="135.9"><tspan font-style="italic">Nudt6</tspan> siRNA</text>
</g>

<!-- PANEL B -->
<rect x="528.2" y="12" width="4.4" height="40" fill="#000"/>
<path fill="#000" fill-rule="evenodd" d="M531 29.5C533.5 26 537.5 24.2 542.3 24.2C550.2 24.2 555.1 30.4 555.1 38.5C555.1 46.6 550.2 52.8 542.3 52.8C537.5 52.8 533.5 50.8 531 47.5ZM533.3 36.5C533.3 33 536.8 31 541.3 31C547 31 550.4 34.3 550.4 39.7C550.4 45.2 547 48.5 541.3 48.5C536.8 48.5 533.3 46.3 533.3 42.8Z"/>
<rect x="528.2" y="30.2" width="24.5" height="0.8" fill="#fff" opacity="0.85"/>
<g stroke="#000" fill="none" stroke-width="3">
<path d="M621.3 100V391.5"/>
<path d="M612.7 390H1017.5"/>
<path d="M612.7 101.4H621M612.7 198H621M612.7 293.4H621"/>
<path d="M621.5 390V398.5M700.2 390V398.5M780.1 390V398.5M859.6 390V398.5M939.5 390V398.5M1016.1 390V398.5"/>
</g>
<g class="b" font-size="22.8" text-anchor="end">
<text x="603.6" y="108.6">150</text>
<text x="603.6" y="205.2">100</text>
<text x="603.6" y="300.6">50</text>
<text x="603.6" y="397.2">0</text>
</g>
<g class="b" font-size="22.8" text-anchor="middle">
<text x="660.8" y="421.6">0</text>
<text x="740.3" y="421.6">1</text>
<text x="819.8" y="421.6">2</text>
<text x="899.3" y="421.6">3</text>
<text x="978.8" y="421.6">4</text>
</g>
<text class="b" x="723.5" y="447.7" font-size="16.8">Days Post-Transfection</text>
<text class="b" font-size="16.8" transform="translate(558.7,378.5) rotate(-90)">Average FGF-2 Staining Intensity</text>
<!-- legend b -->
<g class="b" font-size="17.7">
<text x="707" y="127.3">Nudt6 siRNA</text>
<text x="707" y="165.3">Control siRNA</text>
<text x="707" y="203.5">Fgf2 siRNA</text>
</g>
<g id="plotb"><path d="M661.0 290L740.2 324.5" stroke="#000" stroke-width="3.4" stroke-dasharray="29 11" stroke-dashoffset="0" fill="none"/>
<path d="M740.2 324.5L819.6 319" stroke="#000" stroke-width="3.4" stroke-dasharray="29 11" stroke-dashoffset="0" fill="none"/>
<path d="M819.6 319L899.2 284" stroke="#000" stroke-width="3.4" stroke-dasharray="29 11" stroke-dashoffset="0" fill="none"/>
<path d="M899.2 284L978.4 288.3" stroke="#000" stroke-width="3.4" stroke-dasharray="29 11" stroke-dashoffset="0" fill="none"/>
<path d="M661.0 290L740.2 333.6" stroke="#d11f1f" stroke-width="4" stroke-dasharray="6.7 16.2" stroke-dashoffset="0.2" stroke-linecap="round" fill="none"/>
<path d="M740.2 333.6L819.6 349.1" stroke="#d11f1f" stroke-width="4" stroke-dasharray="6.7 16.2" stroke-dashoffset="0.2" stroke-linecap="round" fill="none"/>
<path d="M819.6 349.1L899.2 360.6" stroke="#d11f1f" stroke-width="4" stroke-dasharray="6.7 16.2" stroke-dashoffset="0.2" stroke-linecap="round" fill="none"/>
<path d="M899.2 360.6L978.4 342.2" stroke="#d11f1f" stroke-width="4" stroke-dasharray="6.7 16.2" stroke-dashoffset="0.2" stroke-linecap="round" fill="none"/>
<path d="M661.0 290L740.2 312L819.6 267L899.2 178.8L978.4 231.2" stroke="#0a0a9e" stroke-width="2.9" fill="none" stroke-linejoin="round"/>
<path d="M740.2 325.2V342.4M734.7 325.2H745.7M734.7 342.4H745.7" stroke="#d11f1f" stroke-width="2.2" fill="none"/>
<path d="M740.2 321.5V330M734.7 321.5H745.7M734.7 330H745.7" stroke="#000" stroke-width="2.2" fill="none"/>
<path d="M740.2 300.7V323M734.7 300.7H745.7M734.7 323H745.7" stroke="#0a0a9e" stroke-width="2.2" fill="none"/>
<path d="M819.6 340.6V357.5M814.1 340.6H825.1M814.1 357.5H825.1" stroke="#d11f1f" stroke-width="2.2" fill="none"/>
<path d="M819.6 311.2V320M814.1 311.2H825.1M814.1 320H825.1" stroke="#000" stroke-width="2.2" fill="none"/>
<path d="M819.6 256.5V278.4M814.1 256.5H825.1M814.1 278.4H825.1" stroke="#0a0a9e" stroke-width="2.2" fill="none"/>
<path d="M899.2 352V369M893.7 352H904.7M893.7 369H904.7" stroke="#d11f1f" stroke-width="2.2" fill="none"/>
<path d="M899.2 272.3V293.2M893.7 272.3H904.7M893.7 293.2H904.7" stroke="#000" stroke-width="2.2" fill="none"/>
<path d="M899.2 163.2V194.4M893.7 163.2H904.7M893.7 194.4H904.7" stroke="#0a0a9e" stroke-width="2.2" fill="none"/>
<path d="M978.4 333V351.4M972.9 333H983.9M972.9 351.4H983.9" stroke="#d11f1f" stroke-width="2.2" fill="none"/>
<path d="M978.4 276.2V298.6M972.9 276.2H983.9M972.9 298.6H983.9" stroke="#000" stroke-width="2.2" fill="none"/>
<path d="M978.4 214.2V249M972.9 214.2H983.9M972.9 249H983.9" stroke="#0a0a9e" stroke-width="2.2" fill="none"/>
<path d="M654.7 295L661.0 284L667.3 295Z" fill="#000"/>
<path d="M733.9000000000001 329.5L740.2 318.5L746.5 329.5Z" fill="#000"/>
<path d="M813.3000000000001 324L819.6 313L825.9 324Z" fill="#000"/>
<path d="M892.9000000000001 289L899.2 278L905.5 289Z" fill="#000"/>
<path d="M972.1 293.3L978.4 282.3L984.6999999999999 293.3Z" fill="#000"/>
<rect x="655.2" y="284.5" width="11.6" height="11" fill="#1c1a78"/>
<rect x="734.4000000000001" y="306.5" width="11.6" height="11" fill="#0000dd"/>
<rect x="813.8000000000001" y="261.5" width="11.6" height="11" fill="#0000dd"/>
<rect x="893.4000000000001" y="173.3" width="11.6" height="11" fill="#0000dd"/>
<rect x="972.6" y="225.7" width="11.6" height="11" fill="#0000dd"/>
<circle cx="661.0" cy="290" r="5.7" fill="#d11f1f"/>
<circle cx="740.2" cy="333.6" r="5.7" fill="#d11f1f"/>
<circle cx="819.6" cy="349.1" r="5.7" fill="#d11f1f"/>
<circle cx="899.2" cy="360.6" r="5.7" fill="#d11f1f"/>
<circle cx="978.4" cy="342.2" r="5.7" fill="#d11f1f"/>
<path d="M651.3 120.9H703" stroke="#0a0a9e" stroke-width="2.4"/>
<rect x="672" y="115.7" width="12" height="11" fill="#0000dd"/>
<path d="M651.3 159.7H674M691.7 159.7H703" stroke="#000" stroke-width="3.6"/>
<path d="M671.5 164.5L677.5 153.2L683.5 164.5Z" fill="#000"/>
<path d="M651.3 197.8H659M695.5 197.8H703" stroke="#d11f1f" stroke-width="3.6"/>
<circle cx="677.8" cy="197.8" r="5.7" fill="#d11f1f"/>
<text x="820.4" y="251.6" font-size="35" font-weight="bold" text-anchor="middle">*</text>
<text x="899.4" y="161.70000000000002" font-size="35" font-weight="bold" text-anchor="middle">*</text>
<text x="978.2" y="211.9" font-size="35" font-weight="bold" text-anchor="middle">*</text>
<text x="820.4" y="390.9" font-size="35" font-weight="bold" text-anchor="middle">*</text>
<text x="899.4" y="397.5" font-size="35" font-weight="bold" text-anchor="middle">*</text>
<text x="978.2" y="389.4" font-size="35" font-weight="bold" text-anchor="middle">*</text></g>
</svg>
</body></html>
